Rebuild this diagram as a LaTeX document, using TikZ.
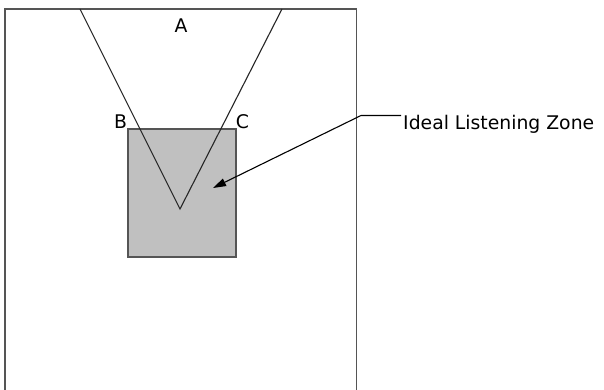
\documentclass[tikz,border=0pt]{standalone}
\usepackage{fontspec}
\setmainfont{DejaVu Sans}
\usetikzlibrary{arrows.meta}
\definecolor{edge}{HTML}{555555}
\definecolor{zonefill}{HTML}{C0C0C0}
\begin{document}
\begin{tikzpicture}[x=1pt,y=-1pt,
  room/.style={draw=edge,line width=1.6pt},
  zone/.style={draw=edge,fill=zonefill,line width=1.6pt},
  beam/.style={draw=black!85,line width=1.1pt},
  lbl/.style={inner sep=0pt,anchor=base,font=\fontsize{18.8}{22}\selectfont},
  pointer/.style={draw=black,line width=1.1pt,-{Triangle[length=13pt,width=8pt]}}]
\useasboundingbox (0,0) rectangle (604,390);
\fill[white] (0,0) rectangle (604,390);
\draw[room] (5,395) -- (5,9) -- (356.5,9) -- (356.5,395);
\node[zone,minimum width=108pt,minimum height=128pt,inner sep=0pt,anchor=north west] (zone) at (127,128) {};
\coordinate (L) at (80,9);
\coordinate (R) at (282,9);
\coordinate (V) at (180,209);
\draw[beam] (L) -- (V) -- (R);
\node[lbl] (A) at (181,33) {A};
\node[lbl] (B) at (120.5,129) {B};
\node[lbl] (C) at (242.5,129) {C};
\node[lbl,anchor=base west] (ilz) at (403,129.5) {Ideal Listening Zone};
\coordinate (bend) at (361,115.5);
\coordinate (tip) at (213,188);
\draw[pointer] ([xshift=-2pt]ilz.west |- bend) -- (bend) -- (tip);
\end{tikzpicture}
\end{document}
